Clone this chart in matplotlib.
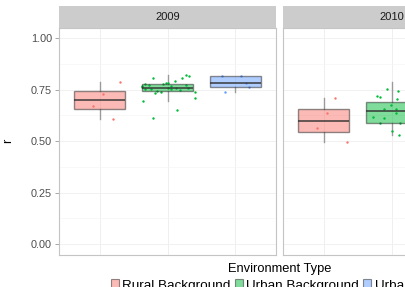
import numpy as np
import matplotlib.pyplot as plt
from matplotlib.patches import Patch
from matplotlib.ticker import MultipleLocator

plt.rcParams['font.family'] = ['Liberation Sans', 'DejaVu Sans']

# ---- data ----
years = ['2009', '2010']
env_types = ['Rural Background', 'Urban Background', 'Urban Traffic']
colors = ['#F8766D', '#00BA38', '#619CFF']

rural_2009 = [0.607, 0.671, 0.730, 0.790]
rural_2009_jit = [0.19, -0.10, 0.05, 0.30]

urban_bg_2009 = [0.805, 0.821, 0.818, 0.808, 0.792, 0.781, 0.782, 0.779, 0.777, 0.769,
                 0.764, 0.773, 0.766, 0.757, 0.752, 0.773, 0.752, 0.737, 0.732, 0.737,
                 0.711, 0.697, 0.652, 0.614, 0.745, 0.748, 0.755, 0.758, 0.760]
urban_bg_2009_jit = [-0.21, 0.28, 0.31, 0.22, 0.11, -0.02, 0.00, -0.06, -0.33, -0.38,
                     -0.37, -0.28, 0.05, 0.01, 0.05, 0.27, -0.33, -0.09, -0.19, 0.41,
                     0.41, -0.36, 0.14, -0.22, -0.15, 0.18, -0.25, 0.30, 0.12]

traffic_2009 = [0.816, 0.816, 0.784, 0.764, 0.737]
traffic_2009_jit = [-0.20, 0.08, 0.16, 0.20, -0.15]

rural_2010 = [0.495, 0.564, 0.637, 0.708]
rural_2010_jit = [0.35, -0.10, 0.05, 0.16]

urban_bg_2010 = [0.721, 0.715, 0.753, 0.745, 0.706, 0.674, 0.657, 0.655, 0.639, 0.618,
                 0.614, 0.590, 0.590, 0.549, 0.529,
                 0.789, 0.560, 0.570, 0.578, 0.584, 0.600, 0.625, 0.642, 0.650, 0.665,
                 0.680, 0.688, 0.694]
urban_bg_2010_jit = [-0.21, -0.17, -0.06, 0.10, 0.08, -0.01, -0.11, 0.06, 0.06, -0.27,
                     -0.11, -0.17, 0.12, 0.00, 0.11,
                     0.25, 0.30, 0.35, 0.27, 0.33, 0.24, 0.38, 0.29, 0.22, 0.36,
                     0.31, 0.26, 0.34]

traffic_2010 = [0.78, 0.80, 0.76, 0.82, 0.79]
traffic_2010_jit = [-0.2, 0.1, 0.2, -0.1, 0.0]

panels = {
    '2009': [(rural_2009, rural_2009_jit), (urban_bg_2009, urban_bg_2009_jit),
             (traffic_2009, traffic_2009_jit)],
    '2010': [(rural_2010, rural_2010_jit), (urban_bg_2010, urban_bg_2010_jit),
             (traffic_2010, traffic_2010_jit)],
}


def rgba(c, a):
    r, g, b = plt.matplotlib.colors.to_rgb(c)
    return (r, g, b, a)


fig = plt.figure(figsize=(4.05, 2.87), dpi=100)
W, H = 405, 287
panel_left = [59, 283]
panel_w = 217
panel_top, panel_bot = 28, 255
strip_top = 6

for i, yr in enumerate(years):
    ax = fig.add_axes([panel_left[i] / W, (H - panel_bot) / H,
                       panel_w / W, (panel_bot - panel_top) / H])
    ax.set_xlim(0.4, 3.6)
    ax.set_ylim(-0.053, 1.05)
    ax.yaxis.set_major_locator(MultipleLocator(0.25))
    ax.yaxis.set_minor_locator(MultipleLocator(0.125))
    ax.set_xticks([1, 2, 3])
    ax.grid(True, which='major', color='#EFEFEF', lw=0.6)
    ax.grid(True, which='minor', axis='y', color='#F6F6F6', lw=0.5)
    ax.set_axisbelow(True)
    for s in ax.spines.values():
        s.set_color('#C4C4C4')
        s.set_linewidth(0.8)
    ax.tick_params(axis='x', length=0, labelbottom=False)
    ax.tick_params(axis='y', which='minor', length=0)
    if i == 0:
        ax.yaxis.set_major_formatter(plt.FuncFormatter(lambda v, p: f'{v:.2f}'))
        ax.tick_params(axis='y', which='major', length=3, width=0.6, color='#9A9A9A',
                       labelsize=7.8, labelcolor='#4D4D4D', pad=2)
    else:
        ax.tick_params(axis='y', which='major', length=0, labelleft=False)

    groups = panels[yr]
    for k, (vals, jit) in enumerate(groups):
        xs = np.array(jit) + (k + 1)
        ax.scatter(xs, vals, s=3, color=colors[k], lw=0, zorder=2.5)
    bp = ax.boxplot([g[0] for g in groups], positions=[1, 2, 3], widths=0.75,
                    patch_artist=True, showfliers=False, whis=1.5, showcaps=False)
    for k, box in enumerate(bp['boxes']):
        box.set_facecolor(rgba(colors[k], 0.5))
        box.set_edgecolor(rgba('#333333', 0.55))
        box.set_linewidth(1.0)
        box.set_zorder(3)
    for wl in bp['whiskers']:
        wl.set_color(rgba('#333333', 0.45))
        wl.set_linewidth(1.0)
        wl.set_zorder(2)
    for md in bp['medians']:
        md.set_color(rgba('#333333', 0.75))
        md.set_linewidth(1.4)
        md.set_zorder(3.5)

    sax = fig.add_axes([panel_left[i] / W, (H - panel_top) / H,
                        panel_w / W, (panel_top - strip_top) / H])
    sax.set_facecolor('#CCCCCC')
    sax.set_xticks([])
    sax.set_yticks([])
    for s in sax.spines.values():
        s.set_visible(False)
    sax.text(0.5, 0.5, yr, ha='center', va='center', fontsize=8, color='#1A1A1A',
             transform=sax.transAxes)

fig.text(279.5 / W, (H - 269) / H, 'Environment Type', ha='center', va='center',
         fontsize=9.3, color='black')
fig.text(8 / W, (H - 141) / H, 'r', ha='center', va='center', rotation=90,
         fontsize=9.3, color='black')

# legend sits at the bottom edge, partly cut off as in the reference
handles = [Patch(facecolor=rgba(c, 0.5), edgecolor=rgba('#333333', 0.55), lw=0.8)
           for c in colors]
fig.legend(handles, env_types, ncol=3, loc='upper left',
           bbox_to_anchor=(111 / W, (H - 279) / H), frameon=False, fontsize=9.7,
           handlelength=0.6, handleheight=0.9, handletextpad=0.25, columnspacing=0.3,
           borderaxespad=0, borderpad=0)

fig.savefig('out.png', dpi=100)
